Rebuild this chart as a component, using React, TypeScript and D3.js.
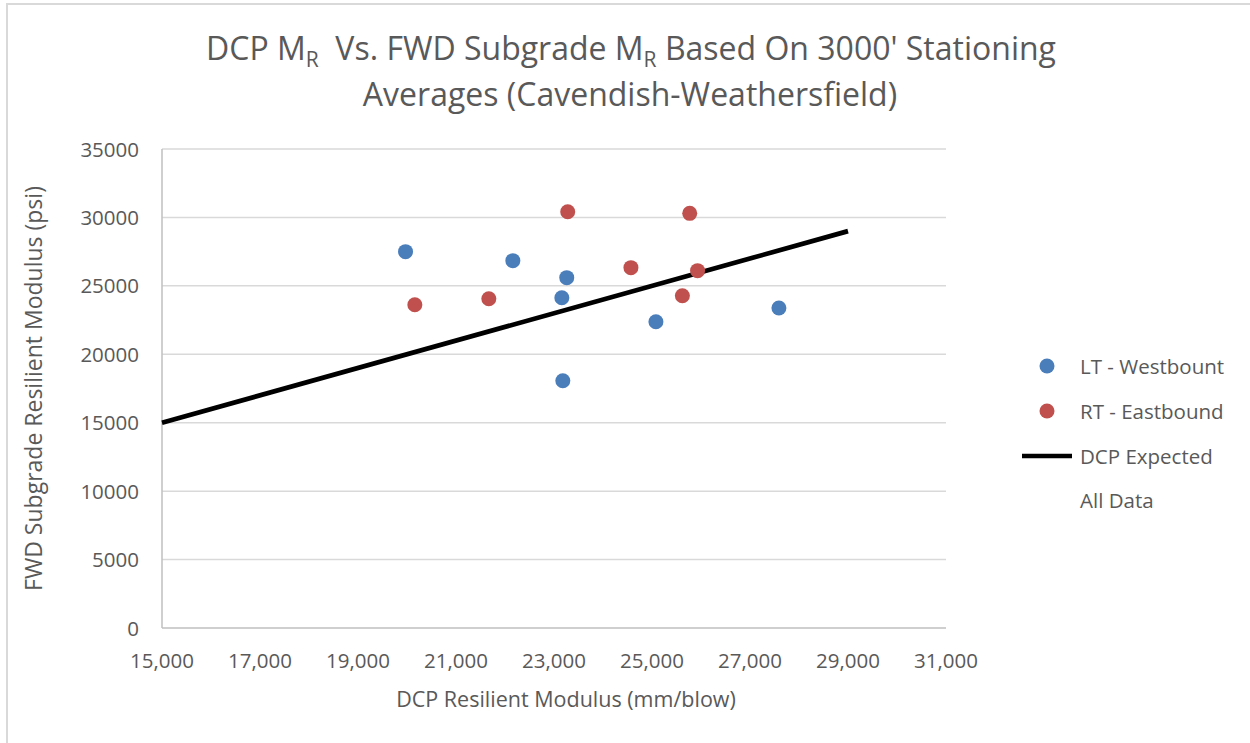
import React from "react";
import * as d3 from "d3";

const xTicks = [15000, 17000, 19000, 21000, 23000, 25000, 27000, 29000, 31000];
const yTicks = [0, 5000, 10000, 15000, 20000, 25000, 30000, 35000];

const westX = [19970, 22160, 23260, 23160, 23180, 25080, 27590];
const westY = [27500, 26840, 25600, 24130, 18070, 22380, 23380];

const eastX = [20160, 21670, 23280, 25770, 24570, 25930, 25620];
const eastY = [23620, 24060, 30420, 30300, 26330, 26110, 24280];

const expectedX = [15000, 29000];
const expectedY = [15000, 29000];

const legendLabels = ["LT - Westbount", "RT - Eastbound", "DCP Expected", "All Data"];

const BLUE = "#4a7ebb";
const RED = "#c0504d";
const TEXT = "#595959";
const FONT = "'Open Sans', 'DejaVu Sans', sans-serif";

export default function App() {
  const W = 1250;
  const H = 743;
  const left = 162, right = 946, top = 149, bottom = 628;
  const x = d3.scaleLinear().domain([15000, 31000]).range([left, right]);
  const y = d3.scaleLinear().domain([0, 35000]).range([bottom, top]);
  const fmt = d3.format(",");
  const line = d3
    .line<number>()
    .x((d) => x(expectedX[d]))
    .y((d) => y(expectedY[d]));

  const legendY = [366, 411, 456, 500];

  return (
    <svg
      width={W}
      height={H}
      style={{ position: "absolute", left: 0, top: 0, background: "#fff" }}
      fontFamily={FONT}
    >
      <rect x={0} y={0} width={W} height={H} fill="#fff" />
      <rect x={7} y={4} width={W + 20} height={H + 20} fill="none" stroke="#d9d9d9" strokeWidth={2} />

      {/* Title */}
      <text x={631} y={60} textAnchor="middle" fontSize={32} fill={TEXT}>
        DCP M<tspan fontSize={21} dy={7}>R</tspan>
        <tspan dy={-7}>{"\u00a0\u00a0Vs. FWD Subgrade M"}</tspan>
        <tspan fontSize={21} dy={7}>R</tspan>
        <tspan dy={-7}>{" Based On 3000' Stationing"}</tspan>
      </text>
      <text x={630} y={106} textAnchor="middle" fontSize={32} fill={TEXT}>
        Averages (Cavendish-Weathersfield)
      </text>

      {/* Gridlines */}
      {yTicks.filter((t) => t > 0).map((t) => (
        <line key={"g" + t} x1={left} x2={right} y1={y(t)} y2={y(t)} stroke="#d9d9d9" strokeWidth={1.5} />
      ))}
      {/* Axes */}
      <line x1={left} x2={right} y1={bottom} y2={bottom} stroke="#bfbfbf" strokeWidth={1.5} />
      <line x1={left} x2={left} y1={top} y2={bottom} stroke="#bfbfbf" strokeWidth={1.5} />

      {/* Y tick labels */}
      {yTicks.map((t) => (
        <text key={"y" + t} x={139} y={y(t) + 7.5} textAnchor="end" fontSize={20.5} fill={TEXT}>
          {t}
        </text>
      ))}
      {/* X tick labels */}
      {xTicks.map((t) => (
        <text key={"x" + t} x={x(t)} y={668} textAnchor="middle" fontSize={20.5} fill={TEXT}>
          {fmt(t)}
        </text>
      ))}

      {/* Axis titles */}
      <text x={566} y={707} textAnchor="middle" fontSize={21.5} fill={TEXT}>
        DCP Resilient Modulus (mm/blow)
      </text>
      <text
        transform={`translate(42, ${(top + bottom) / 2}) rotate(-90)`}
        textAnchor="middle"
        fontSize={23}
        fill={TEXT}
      >
        FWD Subgrade Resilient Modulus (psi)
      </text>

      {/* Expected line */}
      <path d={line([0, 1]) || ""} fill="none" stroke="#000" strokeWidth={4.7} />

      {/* Points */}
      {westX.map((v, i) => (
        <circle key={"w" + i} cx={x(v)} cy={y(westY[i])} r={7.5} fill={BLUE} />
      ))}
      {eastX.map((v, i) => (
        <circle key={"e" + i} cx={x(v)} cy={y(eastY[i])} r={7.5} fill={RED} />
      ))}

      {/* Legend */}
      <circle cx={1047} cy={legendY[0]} r={7.5} fill={BLUE} />
      <circle cx={1047} cy={legendY[1]} r={7.5} fill={RED} />
      <line x1={1022} x2={1072} y1={legendY[2]} y2={legendY[2]} stroke="#000" strokeWidth={4.7} />
      {legendLabels.map((l, i) => (
        <text key={l} x={1080} y={legendY[i] + 7.5} fontSize={20.5} fill={TEXT}>
          {l}
        </text>
      ))}
    </svg>
  );
}
